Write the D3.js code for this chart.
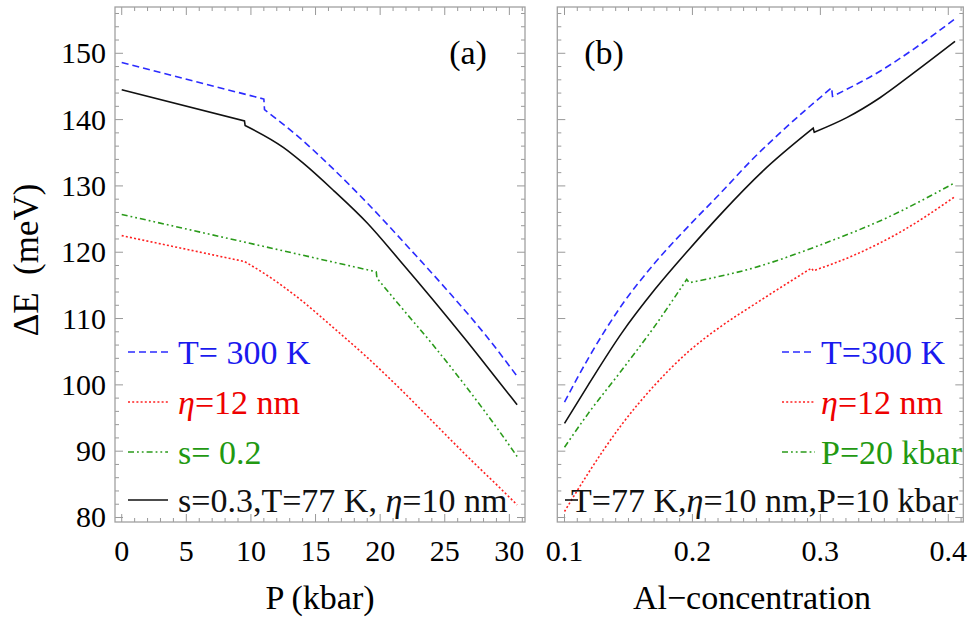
<!DOCTYPE html>
<html>
<head>
<meta charset="utf-8">
<script src="https://d3js.org/d3.v7.min.js"></script>
<style>
  body { margin: 0; background: #fff; }
</style>
</head>
<body>
<svg id="chart" width="973" height="623"></svg>
<script>
// each curve is a list of pieces; pieces meet at a corner or a small jump
// panel (a): energy gap vs pressure P (kbar)
const pBlue = [
  [[0, 148.6], [11.0, 143.1]],
  [[11.05, 141.5], [13.8, 137.2], [16.35, 132.6], [18.96, 127.5], [22.3, 120.5], [25.4, 113.8], [28.2, 107.4], [30.6, 101.3]]
];
const pRed = [
  [[0, 122.5], [9.5, 118.6]],
  [[9.5, 118.6], [11.5, 116.2], [13.8, 112.9], [16.4, 108.6], [18.96, 104.2], [21.5, 99.5], [24.1, 94.4], [26.7, 89.3], [29.3, 84.4], [30.6, 81.9]]
];
const pGreen = [
  [[0, 125.7], [19.7, 117.05]],
  [[19.75, 116.1], [21.5, 112.0], [24.1, 106.0], [26.7, 99.6], [29.3, 92.8], [30.6, 89.2]]
];
const pBlack = [
  [[0, 144.5], [9.5, 139.8]],
  [[9.55, 139.1], [12.5, 135.8], [14.0, 133.5], [16.4, 129.3], [19.0, 124.4], [21.5, 118.8], [24.1, 112.8], [26.7, 106.6], [29.3, 100.2], [30.6, 97.0]]
];

// panel (b): energy gap vs Al concentration
const cBlue = [
  [[0.1, 97.4], [0.1186, 104.0], [0.1447, 112.0], [0.1707, 118.4], [0.1968, 123.9], [0.2229, 129.1], [0.2463, 133.9], [0.2685, 138.0], [0.3088, 144.8]],
  [[0.3095, 143.5], [0.3466, 147.3], [0.3727, 150.6], [0.4053, 155.2]]
];
const cRed = [
  [[0.1, 80.9], [0.1186, 86.7], [0.1447, 94.0], [0.1707, 100.0], [0.1968, 105.0], [0.2229, 108.9], [0.2489, 112.2], [0.293, 117.6]],
  [[0.2945, 117.2], [0.3257, 119.5], [0.3648, 123.3], [0.4053, 128.4]]
];
const cGreen = [
  [[0.1, 90.6], [0.1186, 95.7], [0.1447, 102.2], [0.1707, 108.9], [0.1955, 115.9]],
  [[0.1975, 115.4], [0.2489, 117.7], [0.30, 121.1], [0.352, 125.2], [0.4053, 130.5]]
];
const cBlack = [
  [[0.1, 94.2], [0.1186, 100.0], [0.1447, 107.8], [0.1707, 114.4], [0.1968, 120.3], [0.2229, 125.9], [0.2554, 132.3], [0.2944, 138.7]],
  [[0.2952, 138.1], [0.3206, 140.3], [0.3466, 143.3], [0.3727, 147.0], [0.4053, 151.8]]
];

const pTicks = [0, 5, 10, 15, 20, 25, 30];
const cTicks = [0.1, 0.2, 0.3, 0.4];
const eTicks = [80, 90, 100, 110, 120, 130, 140, 150];

const legendA = ['T= 300 K', 'η=12 nm', 's= 0.2', 's=0.3,T=77 K, η=10 nm'];
const legendB = ['T=300 K', 'η=12 nm', 'P=20 kbar', 'T=77 K,η=10 nm,P=10 kbar'];

const styles = [
  { color: '#2b2bff', text: '#1a1aee', dash: '7,4' },
  { color: '#ff2020', text: '#ee0000', dash: '2,2.2' },
  { color: '#2a9a1a', text: '#229911', dash: '6,3,1.8,3,1.8,3' },
  { color: '#111', text: '#111', dash: null }
];

const serif = '"Liberation Serif", "DejaVu Serif", serif';
const svg = d3.select('#chart').attr('font-family', serif);
const plotTop = 7, plotBottom = 522;

const y = d3.scaleLinear().domain([79.32, 156.98]).range([plotBottom, plotTop]);
const xP = d3.scaleLinear().domain([-0.52, 31.21]).range([115, 525]);
const xC = d3.scaleLinear().domain([0.09437, 0.41173]).range([557.3, 963.3]);

drawFrame(xP, d3.range(0, 32, 1), pTicks);
drawFrame(xC, d3.range(0.1, 0.415, 0.01), cTicks);

// tick labels
svg.append('g').selectAll('text').data(pTicks).join('text')
  .attr('x', d => xP(d)).attr('y', 561)
  .attr('text-anchor', 'middle').attr('font-size', 30).text(d => d);
svg.append('g').selectAll('text').data(cTicks).join('text')
  .attr('x', d => xC(d)).attr('y', 561)
  .attr('text-anchor', 'middle').attr('font-size', 30).text(d => d.toFixed(1));
svg.append('g').selectAll('text').data(eTicks).join('text')
  .attr('x', 106).attr('y', d => y(d) + 10)
  .attr('text-anchor', 'end').attr('font-size', 30).text(d => d);

// curves
const lineP = d3.line().x(d => xP(d[0])).y(d => y(d[1])).curve(d3.curveMonotoneX);
const lineC = d3.line().x(d => xC(d[0])).y(d => y(d[1])).curve(d3.curveMonotoneX);
[pBlue, pRed, pGreen, pBlack].forEach((s, i) => drawCurve(lineP, s, styles[i]));
[cBlue, cRed, cGreen, cBlack].forEach((s, i) => drawCurve(lineC, s, styles[i]));

// legends
const rows = [352, 402, 452, 500];
legendA.forEach((t, i) => drawLegend(128, 168, 178, rows[i], t, styles[i]));
legendB.slice(0, 3).forEach((t, i) => drawLegend(782, 815, 821, rows[i], t, styles[i]));
drawLegend(565, 578, 571, rows[3], legendB[3], styles[3]);

// panel labels and axis titles
svg.append('text').attr('x', 468).attr('y', 64).attr('text-anchor', 'middle').attr('font-size', 34).text('(a)');
svg.append('text').attr('x', 604).attr('y', 64).attr('text-anchor', 'middle').attr('font-size', 34).text('(b)');
svg.append('text').attr('x', 320).attr('y', 609).attr('text-anchor', 'middle').attr('font-size', 34).text('P (kbar)');
svg.append('text').attr('x', 752).attr('y', 609).attr('text-anchor', 'middle').attr('font-size', 34).text('Al\u2212concentration');
svg.append('text')
  .attr('transform', 'translate(38,260) rotate(-90)')
  .attr('text-anchor', 'middle').attr('font-size', 35)
  .style('white-space', 'pre')
  .text('\u0394E  (meV)');

function drawFrame (x, minor, major) {
  const g = svg.append('g');
  const [x0, x1] = x.range();
  const tickCol = '#999';

  minor.forEach(v => {
    const len = major.some(m => Math.abs(m - v) < 1e-6) ? 8 : 4;
    g.append('line')
      .attr('x1', x(v)).attr('x2', x(v)).attr('y1', plotBottom).attr('y2', plotBottom - len)
      .attr('stroke', tickCol);
    g.append('line')
      .attr('x1', x(v)).attr('x2', x(v)).attr('y1', plotTop).attr('y2', plotTop + len)
      .attr('stroke', tickCol);
  });

  d3.range(80, 157, 2).forEach(v => {
    const len = v % 10 === 0 ? 8 : 4;
    g.append('line')
      .attr('x1', x0).attr('x2', x0 + len).attr('y1', y(v)).attr('y2', y(v))
      .attr('stroke', tickCol);
    g.append('line')
      .attr('x1', x1).attr('x2', x1 - len).attr('y1', y(v)).attr('y2', y(v))
      .attr('stroke', tickCol);
  });

  g.append('rect')
    .attr('x', x0).attr('y', plotTop).attr('width', x1 - x0).attr('height', plotBottom - plotTop)
    .attr('fill', 'none').attr('stroke', '#a0a0a0').attr('stroke-width', 1.3);
}

// pieces are joined with straight segments so the dash pattern runs on
function drawCurve (line, pieces, st) {
  const d = pieces.map((p, i) => {
    const s = line(p);
    return i === 0 ? s : 'L' + s.slice(1);
  }).join('');
  svg.append('path')
    .attr('d', d)
    .attr('fill', 'none')
    .attr('stroke', st.color)
    .attr('stroke-width', 1.6)
    .attr('stroke-dasharray', st.dash);
}

function drawLegend (lx0, lx1, tx, ly, label, st) {
  svg.append('line')
    .attr('x1', lx0).attr('x2', lx1).attr('y1', ly).attr('y2', ly)
    .attr('stroke', st.color).attr('stroke-width', 1.6)
    .attr('stroke-dasharray', st.dash);

  const t = svg.append('text')
    .attr('x', tx).attr('y', ly + 12)
    .attr('font-size', 34).attr('fill', st.text)
    .style('white-space', 'pre');
  // eta is set in italic
  label.split(/(η)/).forEach(part => {
    if (!part) return;
    t.append('tspan').attr('font-style', part === 'η' ? 'italic' : null).text(part);
  });
}
</script>
</body>
</html>
